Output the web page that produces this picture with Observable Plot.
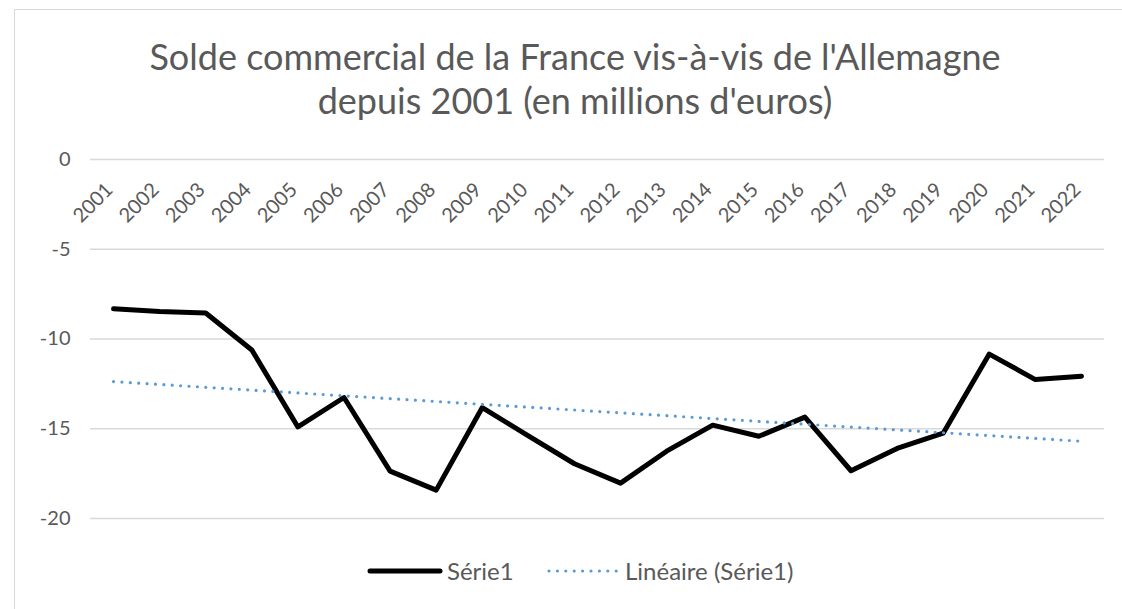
<!DOCTYPE html>
<html><head><meta charset="utf-8">
<script src="https://cdn.jsdelivr.net/npm/d3@7"></script>
<script src="https://cdn.jsdelivr.net/npm/@observablehq/plot@0.6"></script>
<style>
html,body{margin:0;padding:0;background:#fff;font-family:Lato,sans-serif;}
#page{position:relative;width:1122px;height:609px;overflow:hidden;}
#frame{position:absolute;left:14px;top:9px;width:1140px;height:640px;border:1.5px solid #d9d9d9;box-sizing:border-box;}
#title{position:absolute;left:0;width:1150px;top:34px;text-align:center;font-size:36px;line-height:44px;color:#595959;}
#chart{position:absolute;left:0;top:130px;}
#legend{position:absolute;left:0;top:550px;}
</style></head><body>
<div id="page">
<div id="frame"></div>
<div id="title">Solde commercial de la France vis-à-vis de l'Allemagne<br>depuis 2001 (en millions d'euros)</div>
<div id="chart"></div>
<svg id="legend" width="1122" height="45" font-family="Lato, sans-serif" font-size="24" fill="#595959">
<line x1="370" y1="21" x2="440" y2="21" stroke="#000" stroke-width="5" stroke-linecap="round"/>
<text x="447" y="30">Série1</text>
<line x1="549" y1="21" x2="617" y2="21" stroke="#5b9bd5" stroke-width="3.2" stroke-linecap="round" stroke-dasharray="0 8.4"/>
<text x="625" y="30">Linéaire (Série1)</text>
</svg>
</div>
<script>
const years = [2001,2002,2003,2004,2005,2006,2007,2008,2009,2010,2011,2012,2013,2014,2015,2016,2017,2018,2019,2020,2021,2022];
const solde = [-8.32,-8.47,-8.55,-10.61,-14.90,-13.26,-17.36,-18.42,-13.82,-15.40,-16.95,-18.03,-16.25,-14.80,-15.42,-14.35,-17.34,-16.10,-15.25,-10.84,-12.26,-12.07];
const yTicks = [0,-5,-10,-15,-20];

const data = years.map((y,i)=>({year:y, value:solde[i]}));

const chart = Plot.plot({
  width: 1122,
  height: 420,
  marginLeft: 90,
  marginRight: 18,
  marginTop: 29,
  marginBottom: 32,
  style: {fontFamily: "Lato, sans-serif", fontSize: "20px", color: "#595959", background: "transparent"},
  x: {domain: [2000.5, 2022.5], axis: null},
  y: {domain: [-20, 0], axis: null},
  marks: [
    Plot.ruleY(yTicks, {stroke: "#d9d9d9", strokeWidth: 1.5}),
    Plot.axisY(yTicks, {tickSize: 0, tickPadding: 20, label: null, tickFormat: d => String(d), fill: "#595959", fontSize: 20}),
    Plot.text(years, {x: d => d, y: () => 0, text: d => String(d), rotate: -45, textAnchor: "end", dx: -4, dy: 27, fill: "#595959", fontSize: 20}),
    Plot.line(data, {x: "year", y: "value", stroke: "#000", strokeWidth: 5, strokeLinejoin: "round", strokeLinecap: "round"}),
    Plot.linearRegressionY(data, {x: "year", y: "value", ci: 0, stroke: "#5b9bd5", strokeWidth: 3.2, strokeDasharray: "0 8.4", strokeLinecap: "round"})
  ]
});
document.getElementById("chart").appendChild(chart);
</script>
</body></html>
